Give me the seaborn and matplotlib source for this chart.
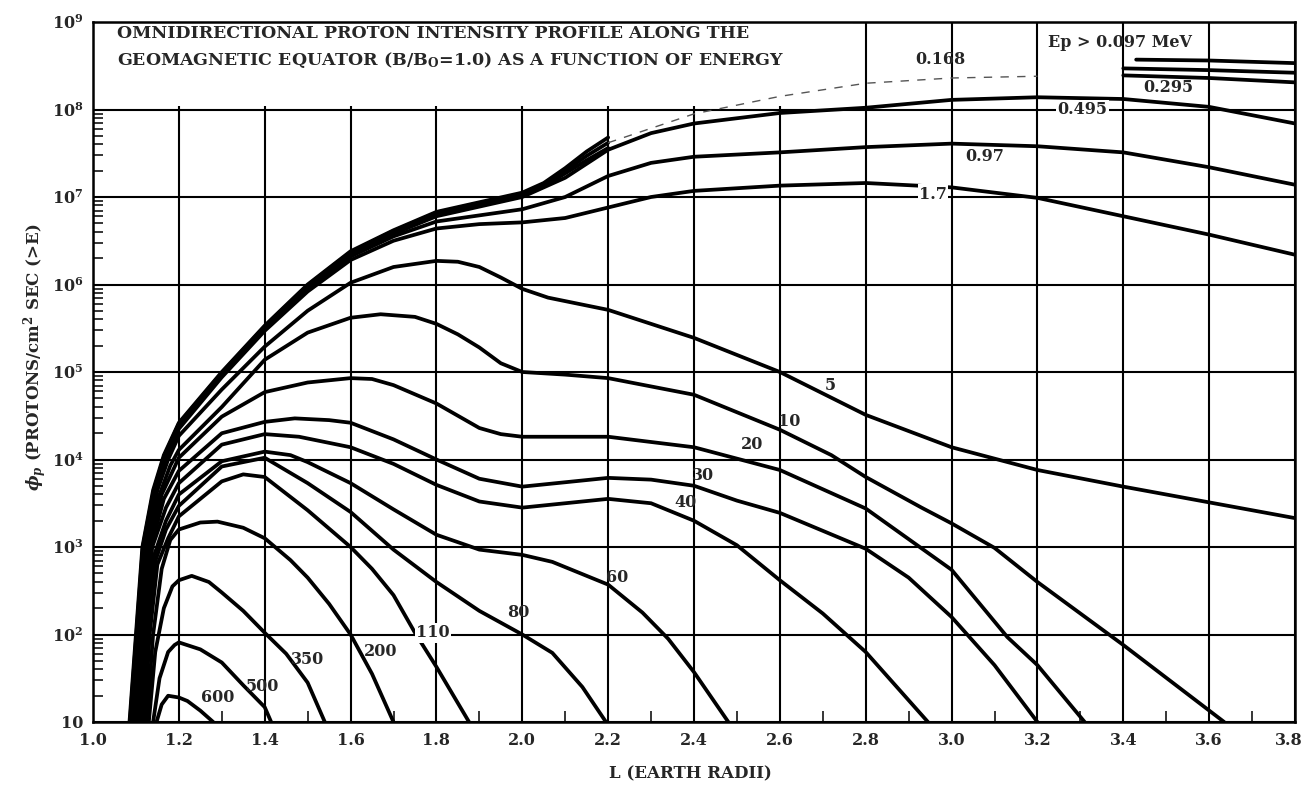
import numpy as np
import pandas as pd
import matplotlib
matplotlib.use("Agg")
import matplotlib.pyplot as plt
import matplotlib.transforms as mtransforms
import seaborn as sns
from matplotlib.patches import Rectangle
from matplotlib.ticker import FixedLocator, FixedFormatter, NullFormatter, LogLocator, MultipleLocator

# ---------------- data (L in Earth radii, log10 of omnidirectional flux) ----------------
L_e0097 = [1.085, 1.10, 1.115, 1.14, 1.165, 1.2, 1.3, 1.4, 1.5, 1.6, 1.7, 1.8, 1.9, 2.0, 2.05, 2.1, 2.15,
           2.2, 2.4, 2.6, 2.8, 3.0, 3.2, 3.43, 3.6, 3.8]
F_e0097 = [1.0, 2.0, 3.0, 3.65, 4.05, 4.42, 5.0, 5.53, 6.0, 6.38, 6.62, 6.83, 6.94, 7.05, 7.16, 7.33, 7.52,
           7.68, 8.0, 8.22, 8.38, 8.47, 8.52, 8.57, 8.56, 8.53]

L_e0168 = [1.086, 1.101, 1.116, 1.141, 1.166, 1.2, 1.3, 1.4, 1.5, 1.6, 1.7, 1.8, 1.9, 2.0, 2.05, 2.1, 2.15,
           2.2, 2.4, 2.6, 2.8, 3.0, 3.2, 3.4, 3.6, 3.8]
F_e0168 = [1.0, 2.0, 3.0, 3.64, 4.04, 4.41, 4.99, 5.52, 5.99, 6.37, 6.61, 6.82, 6.93, 7.03, 7.14, 7.30, 7.47,
           7.62, 7.95, 8.15, 8.30, 8.36, 8.38, 8.47, 8.45, 8.42]

L_e0295 = [1.087, 1.102, 1.117, 1.142, 1.167, 1.2, 1.3, 1.4, 1.5, 1.6, 1.7, 1.8, 1.9, 2.0, 2.05, 2.1, 2.15,
           2.2, 2.4, 2.6, 2.8, 3.0, 3.2, 3.4, 3.6, 3.8]
F_e0295 = [1.0, 2.0, 3.0, 3.63, 4.03, 4.40, 4.98, 5.51, 5.98, 6.35, 6.60, 6.80, 6.91, 7.02, 7.12, 7.27, 7.42,
           7.56, 7.90, 8.05, 8.17, 8.25, 8.32, 8.39, 8.36, 8.31]

L_e0495 = [1.088, 1.102, 1.117, 1.143, 1.168, 1.2, 1.3, 1.4, 1.5, 1.6, 1.7, 1.8, 1.9, 2.0, 2.1, 2.2, 2.3,
           2.4, 2.6, 2.8, 3.0, 3.2, 3.4, 3.6, 3.8]
F_e0495 = [1.0, 2.0, 3.0, 3.62, 4.02, 4.39, 4.97, 5.50, 5.97, 6.34, 6.58, 6.78, 6.89, 7.00, 7.22, 7.54, 7.73,
           7.84, 7.96, 8.02, 8.11, 8.14, 8.12, 8.03, 7.84]

L_e097 = [1.089, 1.103, 1.118, 1.144, 1.169, 1.2, 1.3, 1.4, 1.5, 1.6, 1.7, 1.8, 1.9, 2.0, 2.1, 2.2, 2.3,
          2.4, 2.6, 2.8, 3.0, 3.2, 3.4, 3.6, 3.8]
F_e097 = [1.0, 2.0, 3.0, 3.61, 4.01, 4.37, 4.96, 5.49, 5.95, 6.32, 6.55, 6.72, 6.79, 6.86, 7.00, 7.24, 7.39,
          7.46, 7.51, 7.57, 7.61, 7.58, 7.51, 7.34, 7.14]

L_e17 = [1.09, 1.104, 1.119, 1.145, 1.17, 1.2, 1.3, 1.4, 1.5, 1.6, 1.7, 1.8, 1.9, 2.0, 2.1, 2.2, 2.3,
         2.4, 2.6, 2.8, 3.0, 3.2, 3.4, 3.6, 3.8]
F_e17 = [1.0, 2.0, 3.0, 3.60, 4.00, 4.35, 4.94, 5.47, 5.92, 6.28, 6.50, 6.64, 6.69, 6.71, 6.76, 6.88, 7.00,
         7.07, 7.13, 7.16, 7.11, 6.99, 6.78, 6.57, 6.34]

L_e5 = [1.093, 1.107, 1.123, 1.15, 1.175, 1.2, 1.3, 1.4, 1.5, 1.6, 1.7, 1.8, 1.85, 1.9, 1.95, 2.0, 2.06,
        2.2, 2.4, 2.6, 2.8, 3.0, 3.2, 3.4, 3.6, 3.8]
F_e5 = [1.0, 2.0, 3.0, 3.65, 4.0, 4.27, 4.80, 5.29, 5.70, 6.02, 6.20, 6.27, 6.26, 6.20, 6.08, 5.95, 5.85,
        5.71, 5.39, 5.00, 4.51, 4.14, 3.88, 3.69, 3.51, 3.33]

L_e10 = [1.096, 1.11, 1.127, 1.155, 1.18, 1.2, 1.3, 1.4, 1.5, 1.6, 1.67, 1.75, 1.8, 1.85, 1.9, 1.95, 2.0,
         2.1, 2.2, 2.4, 2.6, 2.72, 2.8, 2.93, 3.0, 3.1, 3.2, 3.4, 3.635]
F_e10 = [1.0, 2.0, 3.0, 3.6, 3.93, 4.11, 4.60, 5.14, 5.45, 5.62, 5.66, 5.63, 5.55, 5.43, 5.28, 5.10, 5.00,
         4.97, 4.93, 4.74, 4.34, 4.05, 3.80, 3.45, 3.27, 2.99, 2.60, 1.88, 1.0]

L_e20 = [1.10, 1.113, 1.13, 1.16, 1.2, 1.3, 1.4, 1.5, 1.6, 1.65, 1.7, 1.8, 1.85, 1.9, 1.95, 2.0, 2.2,
         2.4, 2.6, 2.75, 2.8, 3.0, 3.13, 3.2, 3.31]
F_e20 = [1.0, 2.0, 3.0, 3.6, 4.02, 4.49, 4.77, 4.88, 4.93, 4.92, 4.85, 4.64, 4.50, 4.36, 4.29, 4.26, 4.26,
         4.14, 3.88, 3.55, 3.44, 2.74, 1.97, 1.65, 1.0]

L_e30 = [1.103, 1.117, 1.135, 1.165, 1.2, 1.3, 1.4, 1.47, 1.55, 1.6, 1.7, 1.8, 1.9, 2.0, 2.1, 2.2, 2.3,
         2.4, 2.5, 2.6, 2.8, 2.9, 3.0, 3.1, 3.2]
F_e30 = [1.0, 2.0, 3.0, 3.55, 3.87, 4.30, 4.43, 4.47, 4.45, 4.42, 4.23, 4.00, 3.78, 3.69, 3.74, 3.79, 3.77,
         3.70, 3.53, 3.39, 2.98, 2.65, 2.20, 1.65, 1.0]

L_e40 = [1.106, 1.12, 1.138, 1.17, 1.2, 1.3, 1.4, 1.48, 1.6, 1.7, 1.8, 1.9, 2.0, 2.1, 2.2, 2.3, 2.4,
         2.5, 2.6, 2.7, 2.8, 2.945]
F_e40 = [1.0, 2.0, 3.0, 3.45, 3.73, 4.17, 4.29, 4.26, 4.14, 3.95, 3.71, 3.52, 3.45, 3.50, 3.55, 3.50, 3.30,
         3.02, 2.62, 2.24, 1.80, 1.0]

L_e60 = [1.11, 1.124, 1.142, 1.17, 1.2, 1.3, 1.4, 1.46, 1.5, 1.6, 1.7, 1.8, 1.9, 2.0, 2.07, 2.2, 2.28,
         2.34, 2.4, 2.48]
F_e60 = [1.0, 2.0, 2.9, 3.3, 3.6, 3.98, 4.09, 4.05, 3.97, 3.73, 3.43, 3.14, 2.97, 2.91, 2.83, 2.57, 2.25,
         1.95, 1.57, 1.0]

L_e80 = [1.115, 1.128, 1.146, 1.17, 1.2, 1.3, 1.4, 1.5, 1.6, 1.7, 1.8, 1.9, 2.0, 2.07, 2.14, 2.195]
F_e80 = [1.0, 2.0, 2.85, 3.2, 3.47, 3.92, 4.02, 3.73, 3.40, 2.97, 2.60, 2.27, 2.00, 1.79, 1.40, 1.0]

L_e110 = [1.12, 1.132, 1.15, 1.175, 1.2, 1.3, 1.35, 1.4, 1.5, 1.6, 1.65, 1.7, 1.75, 1.8, 1.876]
F_e110 = [1.0, 2.0, 2.8, 3.1, 3.35, 3.75, 3.83, 3.80, 3.42, 3.00, 2.75, 2.45, 2.02, 1.63, 1.0]

L_e200 = [1.125, 1.14, 1.16, 1.18, 1.2, 1.25, 1.29, 1.35, 1.4, 1.46, 1.5, 1.55, 1.6, 1.65, 1.70]
F_e200 = [1.0, 2.0, 2.75, 3.08, 3.20, 3.28, 3.29, 3.22, 3.10, 2.85, 2.65, 2.35, 2.00, 1.55, 1.0]

L_e350 = [1.13, 1.145, 1.165, 1.185, 1.2, 1.23, 1.27, 1.3, 1.35, 1.4, 1.45, 1.5, 1.54]
F_e350 = [1.0, 1.8, 2.3, 2.55, 2.62, 2.67, 2.60, 2.48, 2.27, 2.02, 1.78, 1.45, 1.0]

L_e500 = [1.14, 1.155, 1.175, 1.19, 1.2, 1.25, 1.3, 1.35, 1.4, 1.415]
F_e500 = [1.0, 1.5, 1.8, 1.88, 1.91, 1.83, 1.68, 1.42, 1.17, 1.0]

L_e600 = [1.148, 1.16, 1.175, 1.2, 1.22, 1.25, 1.28]
F_e600 = [1.0, 1.2, 1.30, 1.28, 1.24, 1.13, 1.0]

curve_names = ["0.097", "0.168", "0.295", "0.495", "0.97", "1.7", "5", "10", "20", "30", "40",
               "60", "80", "110", "200", "350", "500", "600"]
curve_L = [L_e0097, L_e0168, L_e0295, L_e0495, L_e097, L_e17, L_e5, L_e10, L_e20, L_e30, L_e40,
           L_e60, L_e80, L_e110, L_e200, L_e350, L_e500, L_e600]
curve_F = [F_e0097, F_e0168, F_e0295, F_e0495, F_e097, F_e17, F_e5, F_e10, F_e20, F_e30, F_e40,
           F_e60, F_e80, F_e110, F_e200, F_e350, F_e500, F_e600]

x_ticks = [1.0, 1.2, 1.4, 1.6, 1.8, 2.0, 2.2, 2.4, 2.6, 2.8, 3.0, 3.2, 3.4, 3.6, 3.8]
x_ticklabels = ["1.0", "1.2", "1.4", "1.6", "1.8", "2.0", "2.2", "2.4", "2.6", "2.8",
                "3.0", "3.2", "3.4", "3.6", "3.8"]
y_ticks = [1e1, 1e2, 1e3, 1e4, 1e5, 1e6, 1e7, 1e8, 1e9]
y_ticklabels = ["10", r"10$^{2}$", r"10$^{3}$", r"10$^{4}$", r"10$^{5}$", r"10$^{6}$",
                r"10$^{7}$", r"10$^{8}$", r"10$^{9}$"]

# ---------------- layout / style ----------------
label_pos = {  # (L, log10 flux) positions of the curve annotations
    "0.097": (3.392, 8.77), "0.168": (2.973, 8.57), "0.295": (3.504, 8.25), "0.495": (3.304, 8.0),
    "0.97": (3.078, 7.46), "1.7": (2.957, 7.03), "5": (2.717, 4.85), "10": (2.621, 4.43),
    "20": (2.535, 4.17), "30": (2.421, 3.82), "40": (2.381, 3.51), "60": (2.221, 2.65),
    "80": (1.99, 2.25), "110": (1.792, 2.02), "200": (1.669, 1.81), "350": (1.499, 1.72),
    "500": (1.395, 1.41), "600": (1.29, 1.28),
}
label_text = {"0.097": "Ep > 0.097 MeV"}
label_boxed = {"0.495", "1.7", "110"}

sns.set_theme(style="white")
plt.rcParams['font.family'] = ['DejaVu Serif']
plt.rcParams['font.weight'] = 'bold'
plt.rcParams['mathtext.fontset'] = 'dejavuserif'
plt.rcParams['mathtext.default'] = 'bf'

fig = plt.figure(figsize=(13.05, 7.86), dpi=100)
fig.patch.set_facecolor('white')
ax = fig.add_axes([93 / 1305, 64 / 786, 1202 / 1305, 700 / 786])
ax.set_facecolor('white')
ax.set_yscale('log')
ax.set_xlim(1.0, 3.8)
ax.set_ylim(10, 1e9)

ax.xaxis.set_major_locator(FixedLocator(x_ticks))
ax.xaxis.set_major_formatter(FixedFormatter(x_ticklabels))
ax.yaxis.set_major_locator(FixedLocator(y_ticks))
ax.yaxis.set_major_formatter(FixedFormatter(y_ticklabels))
ax.xaxis.set_minor_locator(MultipleLocator(0.1))
ax.yaxis.set_minor_locator(LogLocator(base=10, subs=np.arange(2, 10), numticks=20))
ax.yaxis.set_minor_formatter(NullFormatter())

ax.grid(True, which='major', color='black', linewidth=1.5)
ax.grid(False, which='minor')
ax.set_axisbelow(True)
ax.tick_params(axis='both', which='major', length=0, labelsize=11.5, pad=7)
ax.tick_params(axis='y', which='minor', direction='in', length=7, width=1.3, left=True, right=False)
ax.tick_params(axis='x', which='minor', direction='in', length=8, width=1.3, bottom=True, top=False)
for s in ax.spines.values():
    s.set_color('black')
    s.set_linewidth(1.8)

# white panel behind the title (covers the grid there)
ax.add_patch(Rectangle((1.0, 1.1e8), 1.77, 1e9 - 1.1e8, facecolor='white', edgecolor='none', zorder=1))

faint_mid = {"0.097": (2.16, 3.42), "0.168": (2.16, 3.39), "0.295": (2.16, 3.39)}

for name, Ls, Fs in zip(curve_names, curve_L, curve_F):
    df = pd.DataFrame({"L": Ls, "flux": 10 ** np.asarray(Fs, dtype=float)})
    if name in faint_mid:
        lo, hi = faint_mid[name]
        left = df[df.L <= lo + 0.045]
        right = df[df.L >= hi]
        sns.lineplot(data=left, x="L", y="flux", ax=ax, color='black', linewidth=2.7,
                     estimator=None, sort=False, legend=False, zorder=3)
        sns.lineplot(data=right, x="L", y="flux", ax=ax, color='black', linewidth=2.7,
                     estimator=None, sort=False, legend=False, zorder=3)
        if name == "0.168":
            mid = df[(df.L >= lo) & (df.L <= hi)]
            sns.lineplot(data=mid, x="L", y="flux", ax=ax, color='#555555', linewidth=1.0,
                         estimator=None, sort=False, legend=False, zorder=3,
                         linestyle=(0, (6, 6)))
    else:
        sns.lineplot(data=df, x="L", y="flux", ax=ax, color='black', linewidth=2.7,
                     estimator=None, sort=False, legend=False, zorder=3)

for name in curve_names:
    lx, ly = label_pos[name]
    txt = label_text.get(name, name)
    kw = {}
    if name in label_boxed:
        kw['bbox'] = dict(facecolor='white', edgecolor='none', pad=1.0)
    ax.text(lx, 10 ** ly, txt, ha='center', va='center', fontsize=11.5, fontweight='bold',
            zorder=5, **kw)

ax.text(1.056, 10 ** 8.82, "OMNIDIRECTIONAL PROTON INTENSITY PROFILE ALONG THE",
        ha='left', va='baseline', fontsize=12.5, fontweight='bold', zorder=5)
ax.text(1.056, 10 ** 8.51, r"GEOMAGNETIC EQUATOR (B/B$_{O}$=1.0) AS A FUNCTION OF ENERGY",
        ha='left', va='baseline', fontsize=12.5, fontweight='bold', zorder=5)

# keep the last x tick label inside the figure
labels = ax.get_xticklabels()
labels[-1].set_transform(labels[-1].get_transform() +
                         mtransforms.ScaledTranslation(-6 / 100, 0, fig.dpi_scale_trans))

ax.set_xlabel("")
ax.set_ylabel("")
fig.text(0.529, 0.016, "L (EARTH RADII)", ha='center', va='center', fontsize=12, fontweight='bold')
fig.text(0.027, 0.545, r"$\mathit{\phi}_{\mathit{p}}$ (PROTONS/cm$^{2}$ SEC (>E)", ha='center', va='center',
         rotation=90, fontsize=12, fontweight='bold')

fig.savefig("out.png", dpi=100, facecolor='white')
